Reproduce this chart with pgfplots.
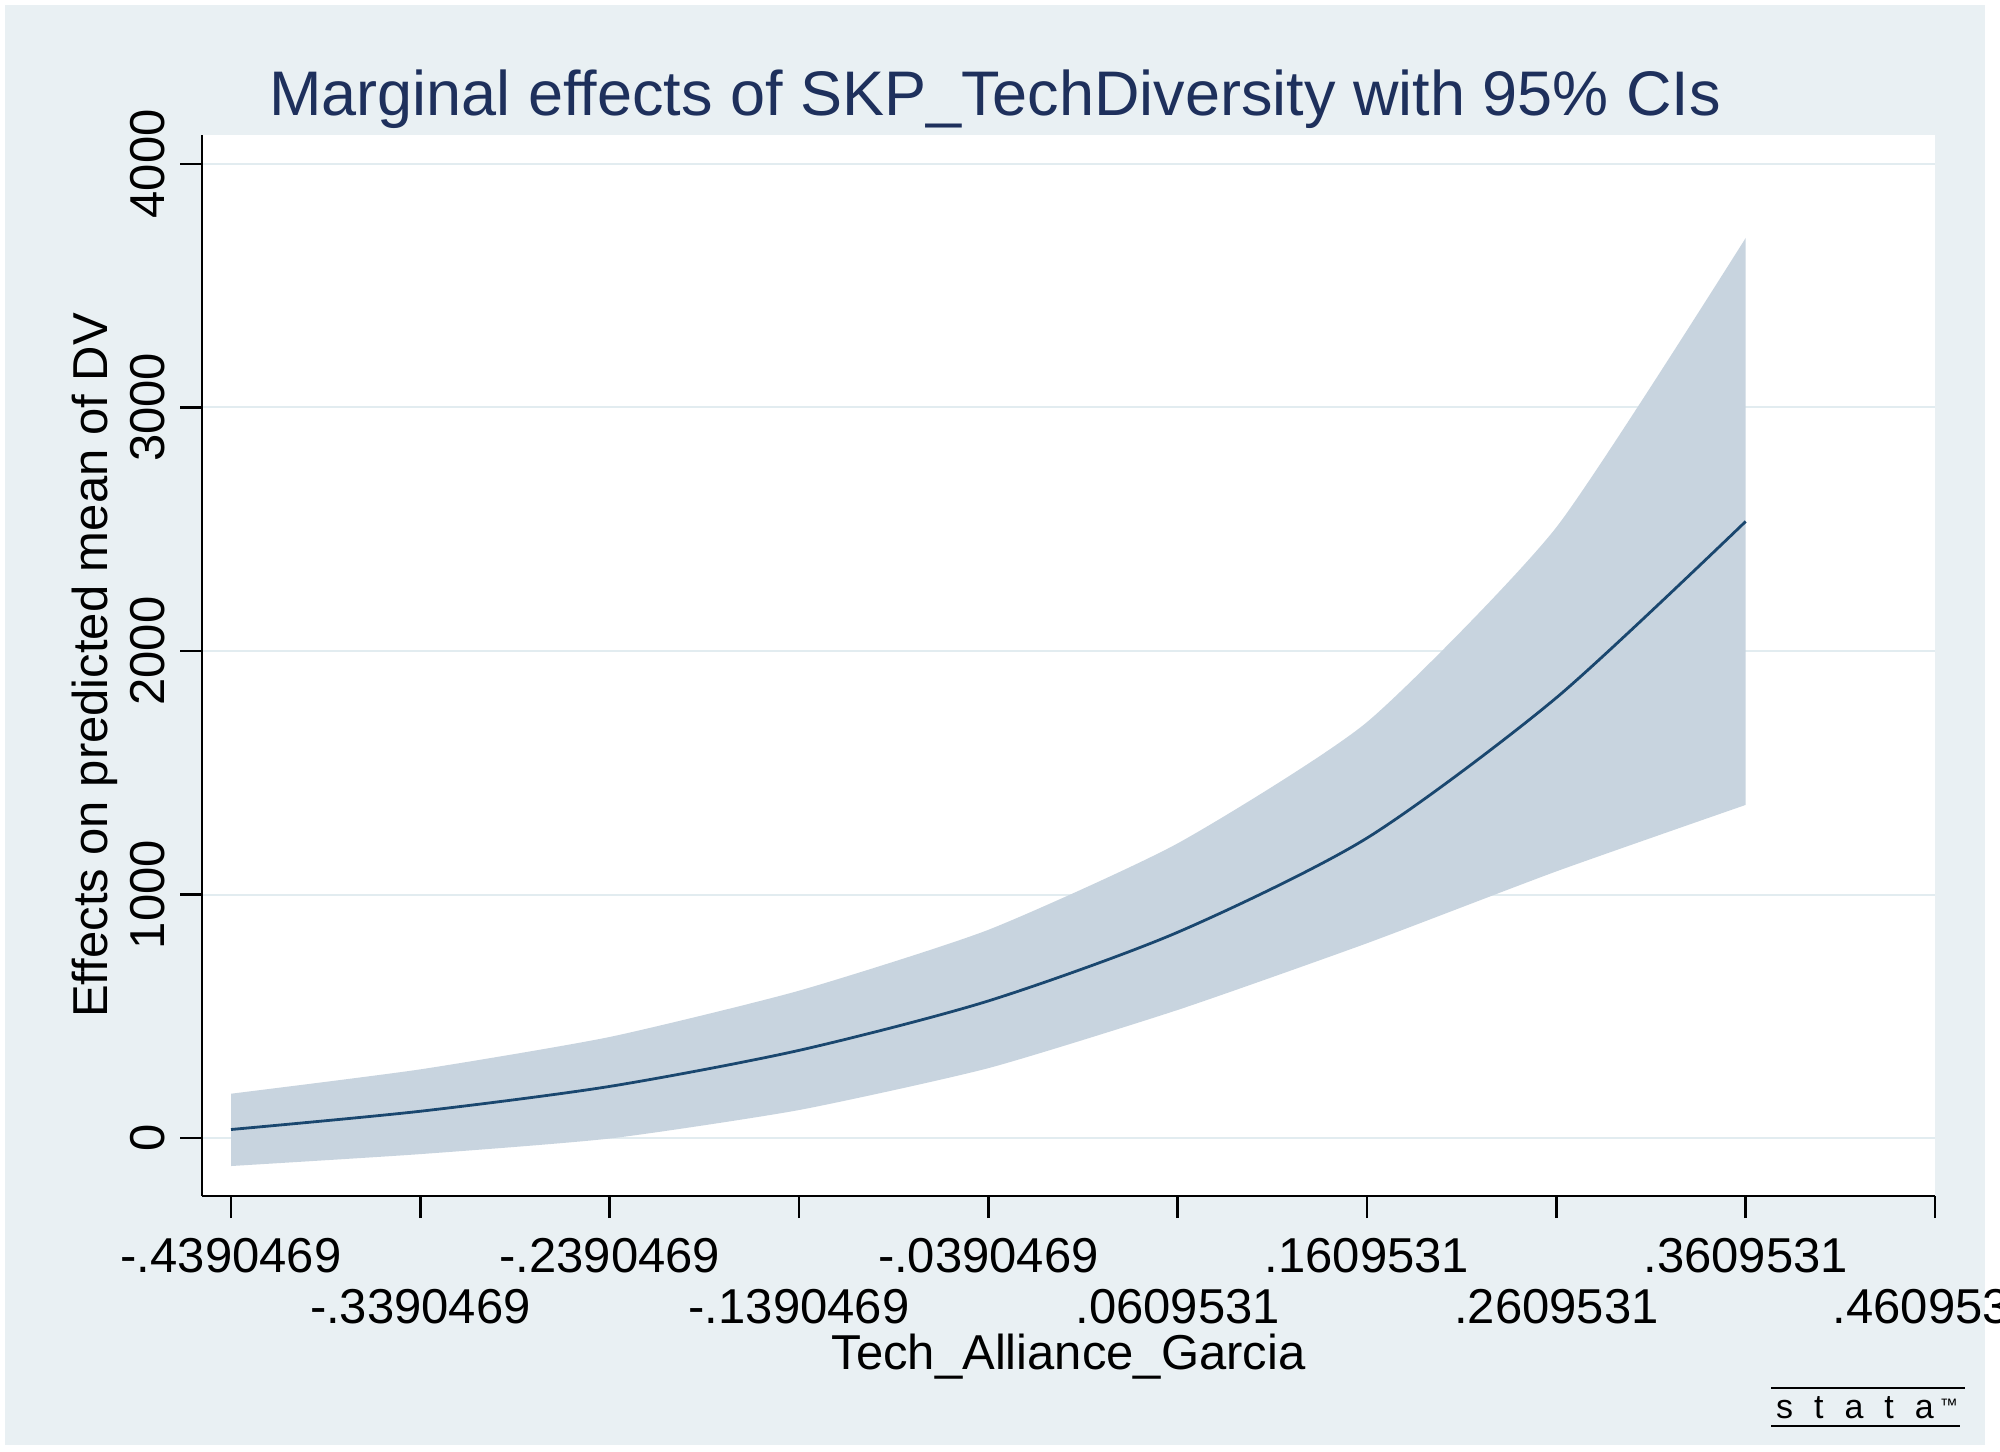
\documentclass[border=0pt]{standalone}
\usepackage{fontspec}
\setmainfont{Liberation Sans}
\usepackage{pgfplots}
\usepackage{pgfplotstable}
\pgfplotsset{compat=1.18}
\usepgfplotslibrary{fillbetween}
\pgfplotsset{set layers}
\definecolor{bgcol}{RGB}{233,240,243}
\definecolor{gridcol}{RGB}{226,236,240}
\definecolor{cicol}{RGB}{200,212,223}
\definecolor{linecol}{RGB}{26,71,111}
\definecolor{titlecol}{RGB}{30,48,92}
\pgfplotstableread{
x lo hi mid
-0.4390469 -115 182 35
-0.3390469 -66 282 110
-0.2390469 -2 415 212
-0.1390469 115 605 360
-0.0390469 287 855 563
0.0609531 526 1210 845
0.1609531 800 1708 1232
0.2609531 1095 2508 1808
0.3609531 1368 3696 2532
}\data
\begin{document}
\begin{tikzpicture}
% canvas (graph region)
\begin{axis}[
  at={(2.5bp,3.5bp)}, anchor=south west,
  scale only axis, width=990bp, height=720bp,
  xmin=0, xmax=1, ymin=0, ymax=1,
  axis lines=none, xtick=\empty, ytick=\empty,
  axis background/.style={fill=bgcol},
]
\end{axis}
\begin{axis}[
  at={(101bp,128bp)}, anchor=south west,
  scale only axis, width=866.5bp, height=530.5bp,
  xmin=-0.45437, xmax=0.4609531, ymin=-238, ymax=4119,
  axis x line*=bottom, axis y line*=left,
  axis line style={black, line width=1.2bp},
  axis background/.style={fill=white},
  tick align=outside, major tick length=11bp,
  tick style={black, line width=1.2bp},
  ymajorgrids, grid style={gridcol, line width=1bp},
  ytick={0,1000,2000,3000,4000}, yticklabels={0,1000,2000,3000,4000},
  xtick={-0.4390469,-0.2390469,-0.0390469,0.1609531,0.3609531},
  xticklabels={-.4390469,-.2390469,-.0390469,.1609531,.3609531},
  extra x ticks={-0.3390469,-0.1390469,0.0609531,0.2609531,0.4609531},
  extra x tick labels={-.3390469,-.1390469,.0609531,.2609531,.4609531},
  extra x tick style={grid=none, xticklabel style={yshift=-25.5bp}},
  scaled ticks=false,
  ticklabel style={font=\fontsize{24.5bp}{29bp}\selectfont, inner sep=0pt, text=black},
  xticklabel style={anchor=base, yshift=-27bp},
  yticklabel style={xshift=-7.75bp, rotate=90, anchor=base},
  title={Marginal effects of SKP\_TechDiversity with 95\% CIs},
  xlabel={Tech\_Alliance\_Garcia},
  ylabel={Effects on predicted mean of DV},
  every axis x label/.style={at={(axis description cs:0.5,0)}, anchor=base, yshift=-87bp, font=\fontsize{24.5bp}{29bp}\selectfont, text=black},
  every axis y label/.style={at={(axis description cs:0,0.5)}, xshift=-47.5bp, rotate=90, anchor=base, font=\fontsize{24.5bp}{29bp}\selectfont, text=black},
  every axis title/.style={at={(axis description cs:0.4576,1)}, anchor=base, yshift=9.5bp, font=\fontsize{31.5bp}{36bp}\selectfont, text=titlecol},
]
\addplot[name path=hi, draw=none, smooth, tension=0.35, forget plot] table[x=x,y=hi]{\data};
\addplot[name path=lo, draw=none, smooth, tension=0.35, forget plot] table[x=x,y=lo]{\data};
\addplot[cicol, draw=none, forget plot] fill between[of=hi and lo];
\addplot[linecol, line width=1.4bp, mark=none, smooth, tension=0.45] table[x=x,y=mid]{\data};
\end{axis}
\draw[black, line width=1.1bp] (885.5bp,32bp) -- (982.5bp,32bp);
\draw[black, line width=1.1bp] (885.5bp,13bp) -- (980bp,13bp);
\node[anchor=base, inner sep=0pt] at (933.5bp,17bp) {\fontsize{17bp}{17bp}\selectfont s\kern10.5bp t\kern10.5bp a\kern10.5bp t\kern10.5bp a\kern3bp\raisebox{3.5bp}{\fontsize{9bp}{9bp}\selectfont ™}};
\pgfresetboundingbox
\useasboundingbox (0,0) rectangle (1000bp,726bp);
\end{tikzpicture}
\end{document}
